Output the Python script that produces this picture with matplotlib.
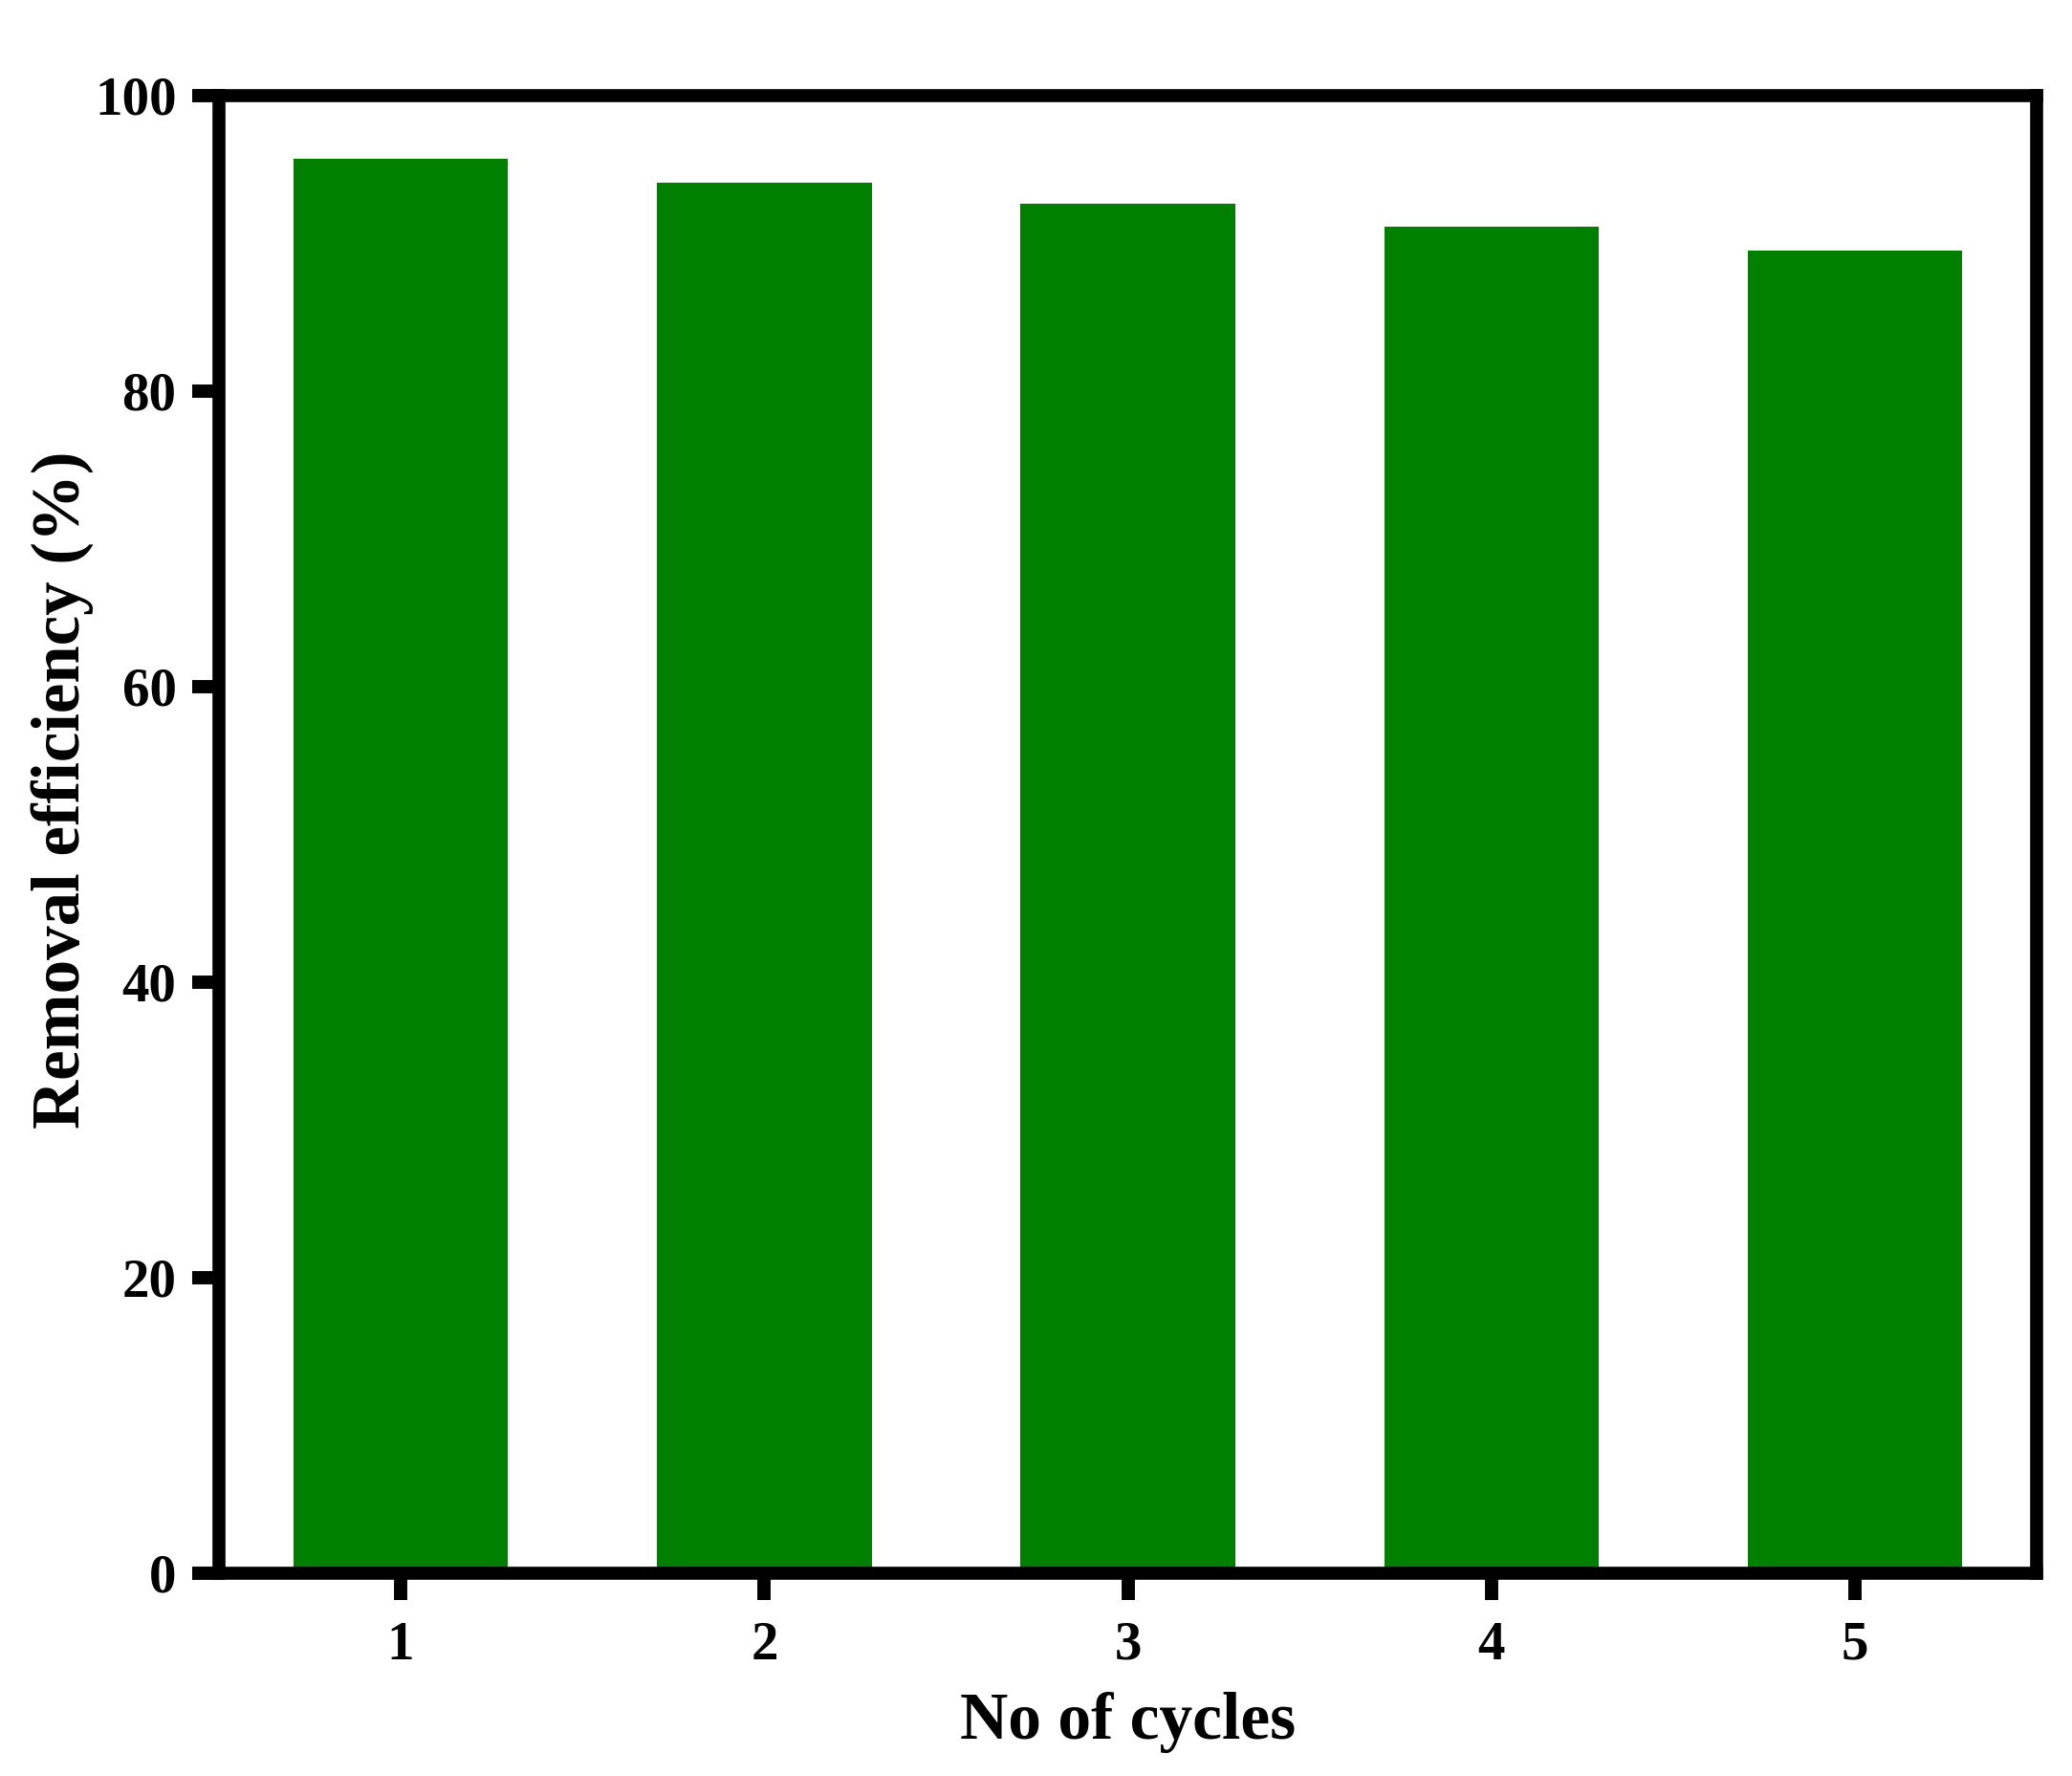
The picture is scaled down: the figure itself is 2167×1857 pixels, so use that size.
import numpy as np
import matplotlib.pyplot as plt

# Data
cycles = [1, 2, 3, 4, 5]
removal_efficiency = [95.7, 94.1, 92.7, 91.1, 89.5]
y_ticks = [0, 20, 40, 60, 80, 100]

plt.rcParams['font.family'] = ['Liberation Serif', 'DejaVu Serif']
plt.rcParams['font.weight'] = 'bold'

fig = plt.figure(figsize=(21.67, 18.57), dpi=100)
ax = fig.add_axes([0.1057, 0.1142, 0.8773, 0.8320])

ax.bar(cycles, removal_efficiency, width=0.59, color='#007f00', zorder=2)

ax.set_xlim(0.5, 5.5)
ax.set_ylim(0, 100)
ax.set_xticks(cycles)
ax.set_yticks(y_ticks)

for spine in ax.spines.values():
    spine.set_linewidth(9.8)
    spine.set_zorder(3)

ax.tick_params(axis='both', direction='out', length=20, width=10, labelsize=41)
ax.tick_params(axis='y', pad=12)
ax.tick_params(axis='x', pad=16)

ax.set_xlabel("No of cycles", fontsize=50, fontweight='bold')
ax.set_ylabel("Removal efficiency (%)", fontsize=51, fontweight='bold')
ax.xaxis.set_label_coords(0.5, -0.080)
ax.yaxis.set_label_coords(-0.069, 0.530)

plt.savefig('out.png', dpi=100)
